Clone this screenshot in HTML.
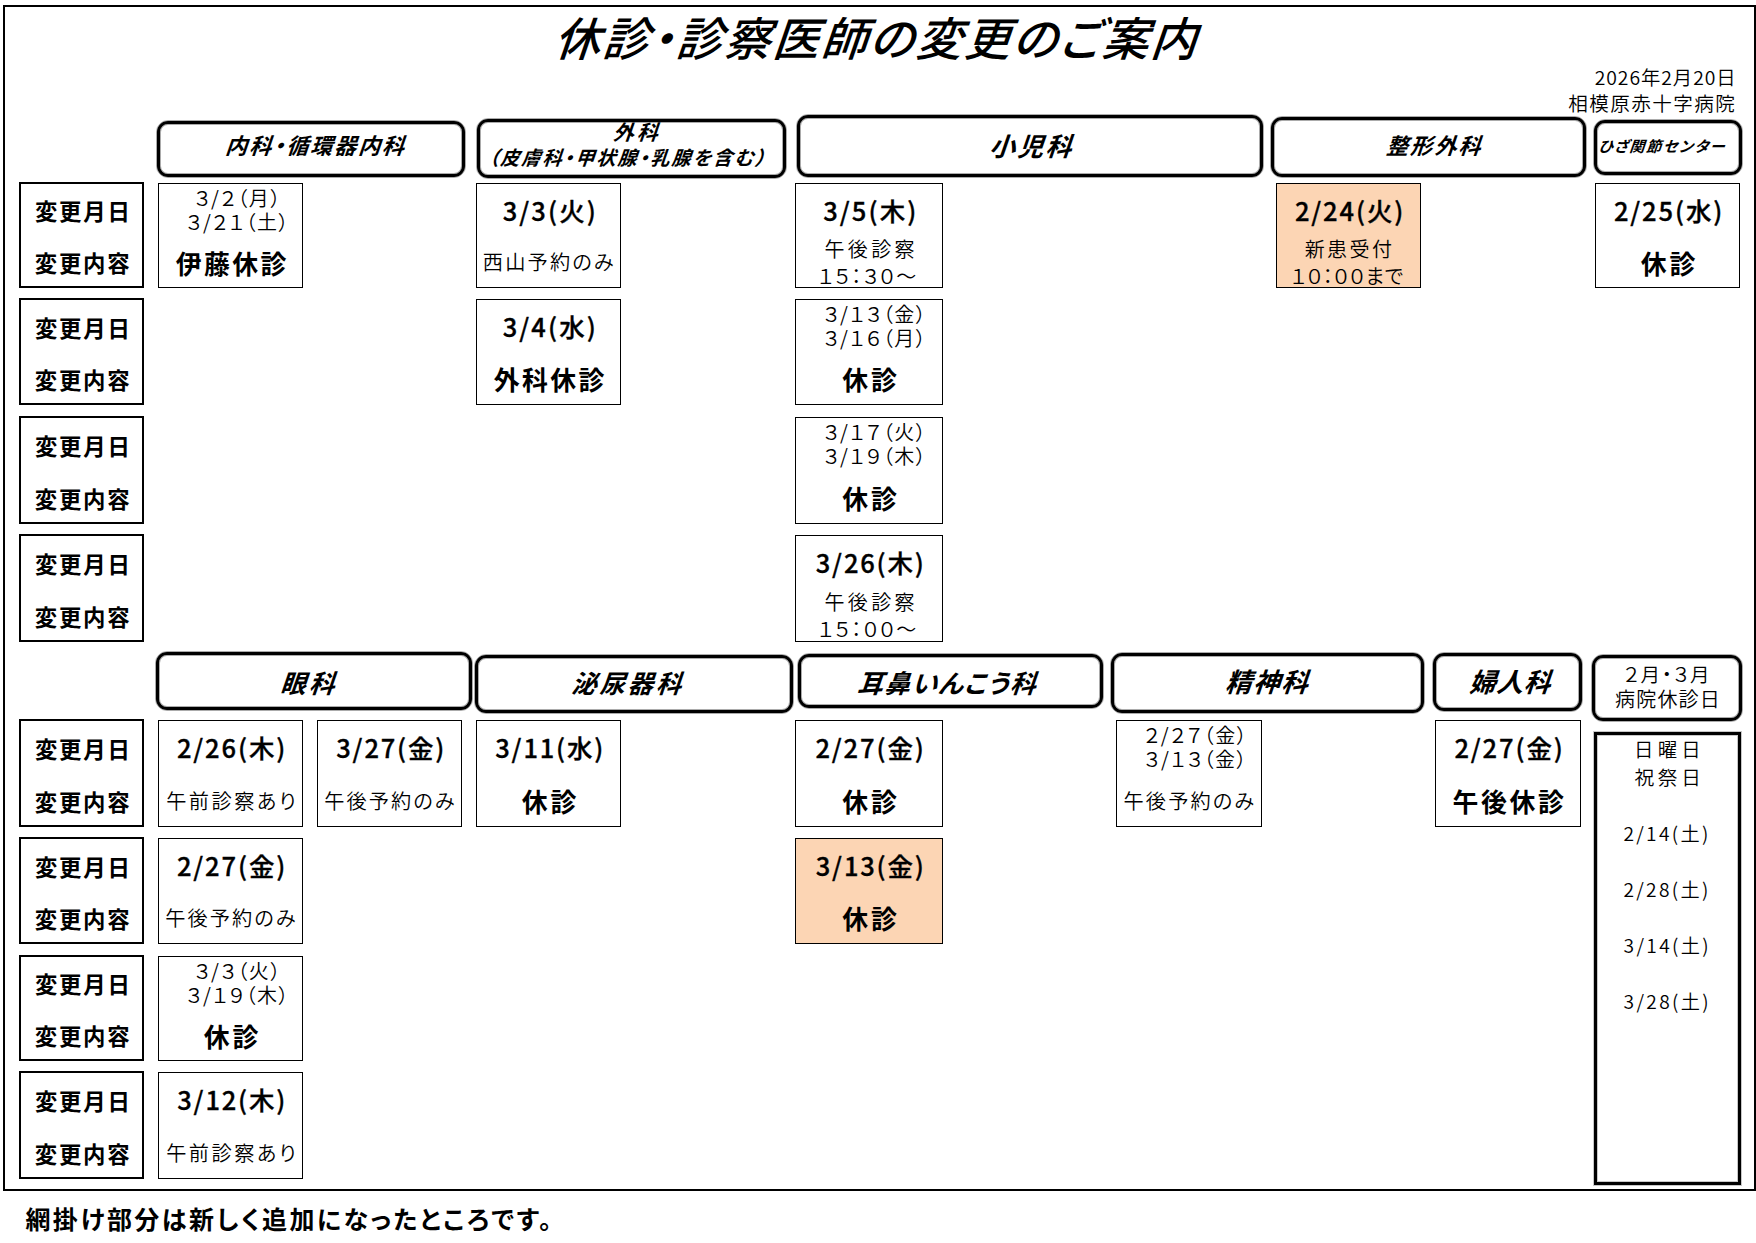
<!DOCTYPE html>
<html lang="ja"><head><meta charset="utf-8"><title>休診・診察医師の変更のご案内</title>
<style>
html,body{margin:0;padding:0;background:#fff;}
body{width:1756px;height:1243px;position:relative;overflow:hidden;color:#000;font-family:"Noto Sans CJK JP","Liberation Sans",sans-serif;}
.abs{position:absolute;box-sizing:border-box;}
.frame{left:3px;top:5px;width:1753px;height:1186px;border:2px solid #000;}
.hd{border:3px solid #000;border-radius:11px;background:#fff;outline:1px solid rgba(0,0,0,.33);box-shadow:inset 0 0 0 1px rgba(0,0,0,.33);}
.lb{border:2px solid #000;}
.cell{border:1px solid #000;}
.or{background:#fcd5b4;}
.clo{border:3px solid #000;outline:1px solid rgba(0,0,0,.22);box-shadow:inset 0 0 0 1px rgba(0,0,0,.22);}
.t{position:absolute;white-space:nowrap;line-height:1;transform-origin:0 0;display:block;}
.b{font-weight:700;font-family:"Noto Sans CJK JP","Liberation Sans",sans-serif;font-feature-settings:"palt";}
.n{font-weight:350;font-family:"Noto Sans CJK JP","Liberation Sans",sans-serif;font-feature-settings:"palt";}
.i{font-style:normal;transform:skewX(-19deg);}
.bd{font-weight:500;-webkit-text-stroke:0.32px #000;}
.ttl{font-weight:500;}
</style></head><body>
<div class="abs frame"></div>
<div class="abs hd" style="left:157px;top:121px;width:308px;height:56px"></div>
<div class="abs hd" style="left:477px;top:119px;width:309px;height:59px"></div>
<div class="abs hd" style="left:797px;top:115px;width:466px;height:62px"></div>
<div class="abs hd" style="left:1271px;top:117px;width:315px;height:60px"></div>
<div class="abs hd" style="left:1594px;top:120px;width:148px;height:55px"></div>
<div class="abs hd" style="left:156px;top:652px;width:316px;height:58px"></div>
<div class="abs hd" style="left:475px;top:655px;width:318px;height:58px"></div>
<div class="abs hd" style="left:798px;top:654px;width:305px;height:54px"></div>
<div class="abs hd" style="left:1111px;top:653px;width:313px;height:60px"></div>
<div class="abs hd" style="left:1433px;top:653px;width:149px;height:58px"></div>
<div class="abs hd" style="left:1592px;top:655px;width:150px;height:66px"></div>
<div class="abs lb" style="left:19px;top:182px;width:125px;height:106px"></div>
<div class="abs lb" style="left:19px;top:298px;width:125px;height:107px"></div>
<div class="abs lb" style="left:19px;top:416px;width:125px;height:108px"></div>
<div class="abs lb" style="left:19px;top:534px;width:125px;height:108px"></div>
<div class="abs lb" style="left:19px;top:719px;width:125px;height:108px"></div>
<div class="abs lb" style="left:19px;top:837px;width:125px;height:107px"></div>
<div class="abs lb" style="left:19px;top:955px;width:125px;height:106px"></div>
<div class="abs lb" style="left:19px;top:1071px;width:125px;height:108px"></div>
<div class="abs cell" style="left:158px;top:183px;width:145px;height:105px"></div>
<div class="abs cell" style="left:476px;top:183px;width:145px;height:105px"></div>
<div class="abs cell" style="left:795px;top:183px;width:148px;height:105px"></div>
<div class="abs cell or" style="left:1276px;top:183px;width:145px;height:105px"></div>
<div class="abs cell" style="left:1595px;top:183px;width:145px;height:105px"></div>
<div class="abs cell" style="left:476px;top:299px;width:145px;height:106px"></div>
<div class="abs cell" style="left:795px;top:299px;width:148px;height:106px"></div>
<div class="abs cell" style="left:795px;top:417px;width:148px;height:107px"></div>
<div class="abs cell" style="left:795px;top:535px;width:148px;height:107px"></div>
<div class="abs cell" style="left:158px;top:720px;width:145px;height:107px"></div>
<div class="abs cell" style="left:317px;top:720px;width:145px;height:107px"></div>
<div class="abs cell" style="left:476px;top:720px;width:145px;height:107px"></div>
<div class="abs cell" style="left:795px;top:720px;width:148px;height:107px"></div>
<div class="abs cell" style="left:1116px;top:720px;width:146px;height:107px"></div>
<div class="abs cell" style="left:1435px;top:720px;width:146px;height:107px"></div>
<div class="abs cell" style="left:158px;top:838px;width:145px;height:106px"></div>
<div class="abs cell or" style="left:795px;top:838px;width:148px;height:106px"></div>
<div class="abs cell" style="left:158px;top:956px;width:145px;height:105px"></div>
<div class="abs cell" style="left:158px;top:1072px;width:145px;height:107px"></div>
<div class="abs clo" style="left:1594px;top:732px;width:147px;height:453px"></div>
<span id="t0" class="t b i ttl" style="left:567.55px;top:13.00px;font-size:46.12px;letter-spacing:2.21px">休診・診察医師の変更のご案内</span>
<span id="t1" class="t n" style="left:1594.67px;top:68.00px;font-size:19.36px;letter-spacing:0.95px">2026年2月20日</span>
<span id="t2" class="t n" style="left:1568.25px;top:93.00px;font-size:19.60px;letter-spacing:1.42px">相模原赤十字病院</span>
<span id="t3" class="t b i" style="left:232.26px;top:133.00px;font-size:22.07px;letter-spacing:1.92px">内科・循環器内科</span>
<span id="t4" class="t b i" style="left:618.81px;top:121.00px;font-size:20.82px;letter-spacing:3.21px">外科</span>
<span id="t5" class="t b i" style="left:493.84px;top:148.00px;font-size:19.36px;letter-spacing:1.82px">（皮膚科・甲状腺・乳腺を含む）</span>
<span id="t6" class="t b i" style="left:997.26px;top:132.00px;font-size:25.80px;letter-spacing:2.37px">小児科</span>
<span id="t7" class="t b i" style="left:1393.35px;top:133.00px;font-size:22.00px;letter-spacing:2.08px">整形外科</span>
<span id="t8" class="t b i" style="left:1603.44px;top:138.00px;font-size:15.10px;letter-spacing:1.64px">ひざ関節センター</span>
<span id="t9" class="t b i" style="left:288.06px;top:669.00px;font-size:25.47px;letter-spacing:3.19px">眼科</span>
<span id="t10" class="t b i" style="left:579.45px;top:670.00px;font-size:25.21px;letter-spacing:2.90px">泌尿器科</span>
<span id="t11" class="t b i" style="left:865.04px;top:669.00px;font-size:25.73px;letter-spacing:1.45px">耳鼻いんこう科</span>
<span id="t12" class="t b i" style="left:1232.90px;top:668.00px;font-size:26.53px;letter-spacing:1.46px">精神科</span>
<span id="t13" class="t b i" style="left:1477.10px;top:668.00px;font-size:26.53px;letter-spacing:0.80px">婦人科</span>
<span id="t14" class="t n" style="left:1623.95px;top:664.00px;font-size:19.60px;letter-spacing:1.75px">２月・３月</span>
<span id="t15" class="t n" style="left:1615.00px;top:689.00px;font-size:20.00px;letter-spacing:1.19px">病院休診日</span>
<span id="t16" class="t b" style="left:34.88px;top:199.00px;font-size:22.40px;letter-spacing:1.82px">変更月日</span>
<span id="t17" class="t b" style="left:34.85px;top:251.00px;font-size:22.40px;letter-spacing:1.72px">変更内容</span>
<span id="t18" class="t b" style="left:34.88px;top:316.00px;font-size:22.40px;letter-spacing:1.82px">変更月日</span>
<span id="t19" class="t b" style="left:34.85px;top:368.00px;font-size:22.40px;letter-spacing:1.72px">変更内容</span>
<span id="t20" class="t b" style="left:34.88px;top:434.00px;font-size:22.40px;letter-spacing:1.82px">変更月日</span>
<span id="t21" class="t b" style="left:34.85px;top:487.00px;font-size:22.40px;letter-spacing:1.72px">変更内容</span>
<span id="t22" class="t b" style="left:34.88px;top:552.00px;font-size:22.40px;letter-spacing:1.82px">変更月日</span>
<span id="t23" class="t b" style="left:34.85px;top:605.00px;font-size:22.40px;letter-spacing:1.72px">変更内容</span>
<span id="t24" class="t b" style="left:34.88px;top:737.00px;font-size:22.40px;letter-spacing:1.82px">変更月日</span>
<span id="t25" class="t b" style="left:34.85px;top:790.00px;font-size:22.40px;letter-spacing:1.72px">変更内容</span>
<span id="t26" class="t b" style="left:34.88px;top:855.00px;font-size:22.40px;letter-spacing:1.82px">変更月日</span>
<span id="t27" class="t b" style="left:34.85px;top:907.00px;font-size:22.40px;letter-spacing:1.72px">変更内容</span>
<span id="t28" class="t b" style="left:34.88px;top:972.00px;font-size:22.40px;letter-spacing:1.82px">変更月日</span>
<span id="t29" class="t b" style="left:34.85px;top:1024.00px;font-size:22.40px;letter-spacing:1.72px">変更内容</span>
<span id="t30" class="t b" style="left:34.88px;top:1089.00px;font-size:22.40px;letter-spacing:1.82px">変更月日</span>
<span id="t31" class="t b" style="left:34.85px;top:1142.00px;font-size:22.40px;letter-spacing:1.72px">変更内容</span>
<span id="t32" class="t n" style="left:194.35px;top:188.00px;font-size:20.00px;letter-spacing:1.56px">３/２（月）</span>
<span id="t33" class="t n" style="left:186.25px;top:212.00px;font-size:20.00px;letter-spacing:1.48px">３/２１（土）</span>
<span id="t34" class="t b" style="left:175.70px;top:250.00px;font-size:25.90px;letter-spacing:2.42px">伊藤休診</span>
<span id="t35" class="t b bd" style="left:502.70px;top:197.00px;font-size:25.50px;letter-spacing:2.09px">3/3(火)</span>
<span id="t36" class="t n" style="left:482.85px;top:252.00px;font-size:20.20px;letter-spacing:2.17px">西山予約のみ</span>
<span id="t37" class="t b bd" style="left:823.20px;top:197.00px;font-size:25.50px;letter-spacing:2.09px">3/5(木)</span>
<span id="t38" class="t n" style="left:824.53px;top:239.00px;font-size:20.00px;letter-spacing:3.33px">午後診察</span>
<span id="t39" class="t n" style="left:818.05px;top:266.00px;font-size:20.00px;letter-spacing:1.46px">１５：３０～</span>
<span id="t40" class="t b bd" style="left:1294.88px;top:197.00px;font-size:25.50px;letter-spacing:1.88px">2/24(火)</span>
<span id="t41" class="t n" style="left:1304.70px;top:239.00px;font-size:20.00px;letter-spacing:2.43px">新患受付</span>
<span id="t42" class="t n" style="left:1290.85px;top:266.00px;font-size:20.00px;letter-spacing:0.76px">１０：００まで</span>
<span id="t43" class="t b bd" style="left:1613.88px;top:197.00px;font-size:25.50px;letter-spacing:1.88px">2/25(水)</span>
<span id="t44" class="t b" style="left:1640.70px;top:250.00px;font-size:25.90px;letter-spacing:3.00px">休診</span>
<span id="t45" class="t b bd" style="left:502.70px;top:313.00px;font-size:25.50px;letter-spacing:2.09px">3/4(水)</span>
<span id="t46" class="t b" style="left:493.70px;top:366.00px;font-size:25.90px;letter-spacing:2.42px">外科休診</span>
<span id="t47" class="t n" style="left:823.38px;top:304.00px;font-size:20.00px;letter-spacing:1.47px">３/１３（金）</span>
<span id="t48" class="t n" style="left:823.38px;top:328.00px;font-size:20.00px;letter-spacing:1.47px">３/１６（月）</span>
<span id="t49" class="t b" style="left:842.20px;top:366.00px;font-size:25.90px;letter-spacing:3.00px">休診</span>
<span id="t50" class="t n" style="left:823.38px;top:422.00px;font-size:20.00px;letter-spacing:1.47px">３/１７（火）</span>
<span id="t51" class="t n" style="left:823.38px;top:446.00px;font-size:20.00px;letter-spacing:1.47px">３/１９（木）</span>
<span id="t52" class="t b" style="left:842.20px;top:485.00px;font-size:25.90px;letter-spacing:3.00px">休診</span>
<span id="t53" class="t b bd" style="left:815.75px;top:549.00px;font-size:25.50px;letter-spacing:1.83px">3/26(木)</span>
<span id="t54" class="t n" style="left:824.53px;top:592.00px;font-size:20.00px;letter-spacing:3.33px">午後診察</span>
<span id="t55" class="t n" style="left:818.05px;top:619.00px;font-size:20.00px;letter-spacing:1.46px">１５：００～</span>
<span id="t56" class="t b bd" style="left:176.88px;top:734.00px;font-size:25.50px;letter-spacing:1.88px">2/26(木)</span>
<span id="t57" class="t n" style="left:166.20px;top:791.00px;font-size:20.20px;letter-spacing:2.49px">午前診察あり</span>
<span id="t58" class="t b bd" style="left:336.25px;top:734.00px;font-size:25.50px;letter-spacing:1.83px">3/27(金)</span>
<span id="t59" class="t n" style="left:324.33px;top:791.00px;font-size:20.20px;letter-spacing:2.04px">午後予約のみ</span>
<span id="t60" class="t b bd" style="left:495.25px;top:734.00px;font-size:25.50px;letter-spacing:1.83px">3/11(水)</span>
<span id="t61" class="t b" style="left:521.70px;top:788.00px;font-size:25.90px;letter-spacing:3.00px">休診</span>
<span id="t62" class="t b bd" style="left:815.38px;top:734.00px;font-size:25.50px;letter-spacing:1.88px">2/27(金)</span>
<span id="t63" class="t b" style="left:842.20px;top:788.00px;font-size:25.90px;letter-spacing:3.00px">休診</span>
<span id="t64" class="t n" style="left:1144.12px;top:725.00px;font-size:20.00px;letter-spacing:1.52px">２/２７（金）</span>
<span id="t65" class="t n" style="left:1144.25px;top:749.00px;font-size:20.00px;letter-spacing:1.48px">３/１３（金）</span>
<span id="t66" class="t n" style="left:1123.55px;top:791.00px;font-size:20.20px;letter-spacing:2.11px">午後予約のみ</span>
<span id="t67" class="t b bd" style="left:1454.38px;top:734.00px;font-size:25.50px;letter-spacing:1.88px">2/27(金)</span>
<span id="t68" class="t b" style="left:1452.57px;top:788.00px;font-size:25.90px;letter-spacing:2.58px">午後休診</span>
<span id="t69" class="t b bd" style="left:176.88px;top:852.00px;font-size:25.50px;letter-spacing:1.88px">2/27(金)</span>
<span id="t70" class="t n" style="left:165.33px;top:908.00px;font-size:20.20px;letter-spacing:2.04px">午後予約のみ</span>
<span id="t71" class="t b bd" style="left:815.75px;top:852.00px;font-size:25.50px;letter-spacing:1.83px">3/13(金)</span>
<span id="t72" class="t b" style="left:842.20px;top:905.00px;font-size:25.90px;letter-spacing:3.00px">休診</span>
<span id="t73" class="t n" style="left:194.35px;top:961.00px;font-size:20.00px;letter-spacing:1.56px">３/３（火）</span>
<span id="t74" class="t n" style="left:186.25px;top:985.00px;font-size:20.00px;letter-spacing:1.48px">３/１９（木）</span>
<span id="t75" class="t b" style="left:203.70px;top:1023.00px;font-size:25.90px;letter-spacing:3.00px">休診</span>
<span id="t76" class="t b bd" style="left:177.25px;top:1086.00px;font-size:25.50px;letter-spacing:1.83px">3/12(木)</span>
<span id="t77" class="t n" style="left:166.20px;top:1143.00px;font-size:20.20px;letter-spacing:2.49px">午前診察あり</span>
<span id="t78" class="t n" style="left:1634.00px;top:739.00px;font-size:19.40px;letter-spacing:4.25px">日曜日</span>
<span id="t79" class="t n" style="left:1634.50px;top:767.00px;font-size:19.60px;letter-spacing:3.75px">祝祭日</span>
<span id="t80" class="t n" style="left:1623.42px;top:824.00px;font-size:19.20px;letter-spacing:2.33px">2/14(土)</span>
<span id="t81" class="t n" style="left:1623.42px;top:880.00px;font-size:19.20px;letter-spacing:2.33px">2/28(土)</span>
<span id="t82" class="t n" style="left:1623.55px;top:936.00px;font-size:19.20px;letter-spacing:2.33px">3/14(土)</span>
<span id="t83" class="t n" style="left:1623.55px;top:992.00px;font-size:19.20px;letter-spacing:2.33px">3/28(土)</span>
<span id="t84" class="t b" style="left:25.40px;top:1206.00px;font-size:25.00px;letter-spacing:2.47px">網掛け部分は新しく追加になったところです。</span>
</body></html>
